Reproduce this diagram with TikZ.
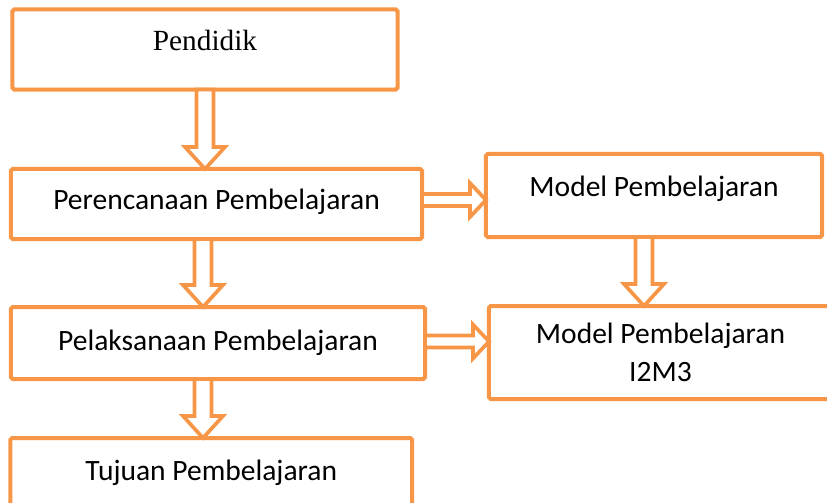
\documentclass[tikz,border=0pt]{standalone}
\usepackage{fontspec}
\setmainfont{Carlito}
\newfontfamily\timesfont{Liberation Serif}
\usetikzlibrary{calc}
\definecolor{oranye}{HTML}{F79646}

% panah blok berongga (atas -> bawah), #3 = posisi x
\newcommand{\panahbawah}[3]{%
  \draw[panah] ($(#1.south -| #3,0)+(-8.5,0)$) -- ($(#2.north -| #3,0)+(-8.5,-22)$)
    -- ($(#2.north -| #3,0)+(-20,-22)$) -- (#2.north -| #3,0)
    -- ($(#2.north -| #3,0)+(20,-22)$) -- ($(#2.north -| #3,0)+(8.5,-22)$)
    -- ($(#1.south -| #3,0)+(8.5,0)$) -- cycle;}
% panah blok berongga (kiri -> kanan), #3 = posisi y
\newcommand{\panahkanan}[3]{%
  \draw[panah] ($(#1.east |- 0,#3)+(0,-6)$) -- ($(#2.west |- 0,#3)+(-16,-6)$)
    -- ($(#2.west |- 0,#3)+(-16,-17)$) -- (#2.west |- 0,#3)
    -- ($(#2.west |- 0,#3)+(-16,17)$) -- ($(#2.west |- 0,#3)+(-16,6)$)
    -- ($(#1.east |- 0,#3)+(0,6)$) -- cycle;}

\begin{document}
\begin{tikzpicture}[
  x=0.03cm, y=-0.03cm,
  kotak/.style={draw=oranye, line width=0.12cm, rounded corners=1.5pt, fill=white,
                inner sep=0pt, outer sep=0pt, align=center,
                font=\fontsize{25.2}{32}\selectfont},
  panah/.style={draw=oranye, line width=0.11cm, fill=white, line join=miter}
]
  \useasboundingbox (0,0) rectangle (827,503);

  % --- kolom kiri
  \node[kotak, minimum width=11.55cm, minimum height=2.4cm, text depth=15pt,
        font=\timesfont\fontsize{25}{30}\selectfont] (pendidik) at (205,49.5) {Pendidik};
  \node[kotak, minimum width=12.33cm, minimum height=2.1cm, text depth=8pt]
        (perencanaan) at (216.5,204) {Perencanaan Pembelajaran};
  \node[kotak, minimum width=12.42cm, minimum height=2.16cm]
        (pelaksanaan) at (218,343) {Pelaksanaan Pembelajaran};
  \node[kotak, minimum width=12.05cm, minimum height=2.16cm, text depth=7pt]
        (tujuan) at (211.25,474) {Tujuan Pembelajaran};

  % --- kolom kanan
  \node[kotak, minimum width=10.08cm, minimum height=2.49cm, text depth=15pt]
        (model) at (654,195.5) {Model Pembelajaran};
  \node[kotak, minimum width=10.29cm, minimum height=2.79cm]
        (modeli) at (660.5,352.5) {Model Pembelajaran\\I2M3};

  % --- panah
  \panahbawah{pendidik}{perencanaan}{205}
  \panahbawah{perencanaan}{pelaksanaan}{203}
  \panahbawah{pelaksanaan}{tujuan}{203}
  \panahbawah{model}{modeli}{644}
  \panahkanan{perencanaan}{model}{200}
  \panahkanan{pelaksanaan}{modeli}{341.5}
\end{tikzpicture}
\end{document}
